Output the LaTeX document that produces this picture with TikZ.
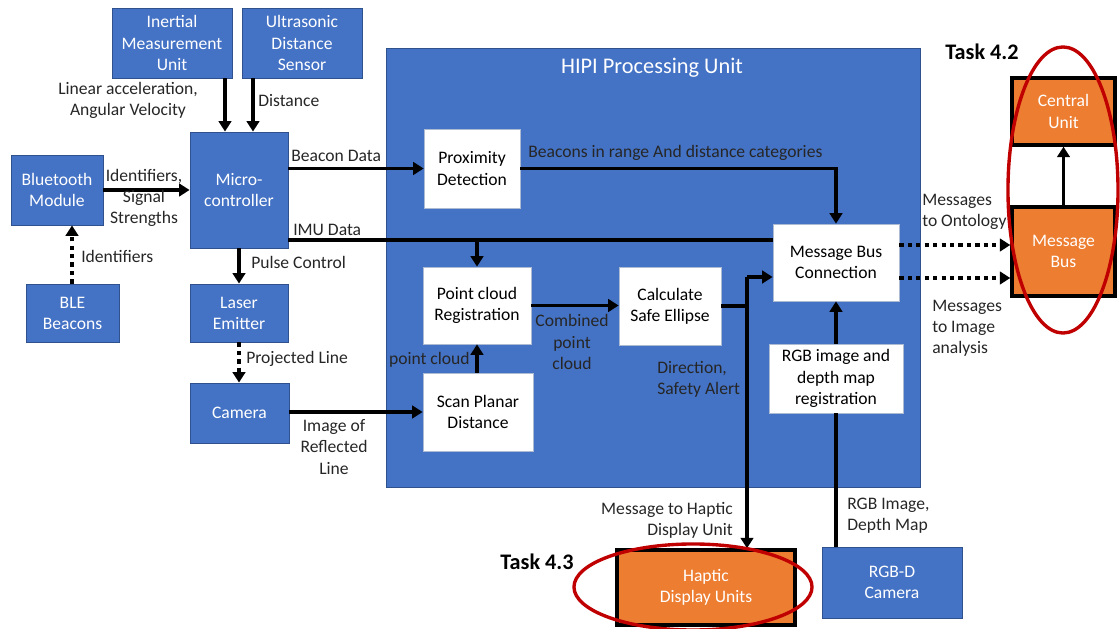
\documentclass[tikz,border=0pt]{standalone}
\usepackage{fontspec}
\setmainfont{Carlito}
\usetikzlibrary{arrows.meta,calc}
\definecolor{boxblue}{HTML}{4472C4}
\definecolor{boxedge}{HTML}{2F528F}
\definecolor{taskorange}{HTML}{ED7D31}
\definecolor{ringred}{HTML}{C00000}
\definecolor{labeltext}{HTML}{262626}
\tikzset{
    unit box/.style = {
        draw = boxedge,
        line width = 0.6pt,
        fill = boxblue,
        text = white,
        align = center,
        inner sep = 0pt,
        },
    stage box/.style = {
        draw = boxedge!40,
        line width = 0.5pt,
        fill = white,
        text = black,
        align = center,
        inner sep = 0pt,
        },
    task box/.style = {
        draw = black,
        line width = 2.4pt,
        fill = taskorange,
        text = white,
        align = center,
        inner sep = 0pt,
        },
    flow label/.style = {
        text = labeltext,
        inner sep = 0pt,
        },
    task label/.style = {
        font = \fontsize{15.8}{18}\selectfont\bfseries,
        inner sep = 0pt,
        },
    flow/.style = {
        draw = black,
        line width = 2.6pt,
        },
    flow arrow/.style = {
        flow,
        -{Triangle[width=9pt,length=7.5pt]},
        },
    signal arrow/.style = {
        flow,
        dash pattern = on 3pt off 3pt,
        -{Triangle[width=9pt,length=7.5pt]},
        },
    task ring/.style = {
        draw = ringred,
        line width = 2.4pt,
        },
}

\begin{document}
\begin{tikzpicture}[x=0.025cm, y=-0.025cm, font=\fontsize{12.5}{15}\selectfont]
    \useasboundingbox (0,0) rectangle (1120,629);

    % processing unit frame
    \node[unit box, minimum width=13.35cm, minimum height=10.975cm] (hipi) at (653,267.5) {};
    \node[text=white, inner sep=0pt, font=\fontsize{15.9}{18}\selectfont] (hipititle) at (652,68) {HIPI Processing Unit};

    % sensors and peripherals
    \node[unit box, minimum width=3cm, minimum height=1.75cm] (imu) at (172,43) {Inertial\\Measurement\\Unit};
    \node[unit box, minimum width=3cm, minimum height=1.75cm] (uds) at (302,43) {Ultrasonic\\Distance\\Sensor};
    \node[unit box, minimum width=2.45cm, minimum height=2.9cm] (mcu) at (239,190) {Micro-\\controller};
    \node[unit box, minimum width=2.3cm, minimum height=1.75cm] (btm) at (57,190) {Bluetooth\\Module};
    \node[unit box, minimum width=2.325cm, minimum height=1.45cm] (ble) at (72.5,313) {BLE\\Beacons};
    \node[unit box, minimum width=2.45cm, minimum height=1.45cm] (laser) at (239,313) {Laser\\Emitter};
    \node[unit box, minimum width=2.475cm, minimum height=1.5cm] (cam) at (239.5,413) {Camera};
    \node[unit box, minimum width=3.5cm, minimum height=1.775cm] (rgbd) at (892,582.5) {RGB-D\\Camera};

    % processing stages
    \node[stage box, minimum width=2.4cm, minimum height=1.975cm] (prox) at (472,168.5) {Proximity\\Detection};
    \node[stage box, minimum width=2.7cm, minimum height=1.925cm] (pcr) at (477,305.5) {Point cloud\\Registration};
    \node[stage box, minimum width=2.75cm, minimum height=1.95cm] (spd) at (478,412) {Scan Planar\\Distance};
    \node[stage box, minimum width=2.55cm, minimum height=1.95cm] (cse) at (670,306) {Calculate\\Safe Ellipse};
    \node[stage box, minimum width=3.15cm, minimum height=1.925cm] (mbc) at (836,262.5) {Message Bus\\Connection};
    \node[stage box, minimum width=3.35cm, minimum height=1.725cm] (rgbreg) at (836,378.5) {RGB image and\\depth map\\registration};

    % task units
    \node[task box, minimum width=2.575cm, minimum height=1.675cm] (cu) at (1063.5,111.5) {Central\\Unit};
    \node[task box, minimum width=2.575cm, minimum height=2.225cm] (mb) at (1063.5,251.5) {Message\\Bus};
    \node[task box, minimum width=4.45cm, minimum height=1.875cm] (hdu) at (706,587.5) {Haptic\\Display Units};
    \node[task label] (task42) at (982,52) {Task 4.2};
    \node[task label] (task43) at (537,562) {Task 4.3};

    % connectors
    \draw[flow arrow] (225,0 |- imu.south) -- (225,0 |- mcu.north);
    \draw[flow arrow] (253,0 |- uds.south) -- (253,0 |- mcu.north);
    \draw[flow arrow] (btm) -- (mcu);
    \draw[signal arrow] (72,0 |- ble.north) -- (72,0 |- btm.south);
    \draw[flow arrow] (mcu.east |- prox.west) -- (prox.west);
    \draw[flow] (mcu.east |- 0,240) -- (mbc.west |- 0,240);
    \draw[flow arrow] (pcr.north |- 0,240) -- (pcr.north);
    \draw[flow arrow] (mcu) -- (laser);
    \draw[signal arrow] (laser.south) -- (laser.south |- cam.north);
    \draw[flow arrow] (cam.east |- spd.west) -- (spd.west);
    \draw[flow arrow] (pcr.south |- spd.north) -- (pcr.south);
    \draw[flow arrow] (pcr.east) -- (pcr.east -| cse.west);
    \draw[flow arrow] (prox.east) -| (mbc.north);
    \coordinate (split) at (747,277);
    \draw[flow] (cse.east) -- (split |- cse.east);
    \draw[flow arrow] (split) -- (split -| mbc.west);
    \draw[flow arrow] (split) -- (split |- hdu.north);
    \draw[flow] (rgbreg.south |- rgbd.north) -- (rgbreg.south);
    \draw[flow arrow] (rgbreg) -- (mbc);
    \draw[signal arrow] (mbc.east |- 0,245) -- (mb.west |- 0,245);
    \draw[signal arrow] (mbc.east |- 0,278) -- (mb.west |- 0,278);
    \draw[flow arrow] (mb) -- (cu);

    % connector labels
    \node[flow label, align=center] (lblimu) at (128,100) {Linear acceleration,\\Angular Velocity};
    \node[flow label, anchor=west] (lbluds) at (258,101) {Distance};
    \node[flow label, align=center] (lblbtm) at (144,198) {Identifiers,\\Signal\\Strengths};
    \node[flow label, anchor=west] (lblble) at (81,256) {Identifiers};
    \node[flow label, anchor=west] (lblbeacon) at (291,156) {Beacon Data};
    \node[flow label, anchor=west] (lblimudata) at (293,230) {IMU Data};
    \node[flow label, anchor=west] (lblpulse) at (251,262) {Pulse Control};
    \node[flow label, anchor=west] (lblproj) at (246,359) {Projected Line};
    \node[flow label, align=center] (lblrefl) at (334,447) {Image of\\Reflected\\Line};
    \node[flow label, anchor=east] (lblcloud) at (470,360) {point cloud};
    \node[flow label, align=center] (lblcomb) at (572,342) {Combined\\point\\cloud};
    \node[flow label, anchor=west] (lblrange) at (528,153) {Beacons in range And distance categories};
    \node[flow label, anchor=west, align=left] (lbldir) at (657,379) {Direction,\\Safety Alert};
    \node[flow label, anchor=east, align=right] (lblhaptic) at (733,520) {Message to Haptic\\Display Unit};
    \node[flow label, anchor=west, align=left] (lblrgbd) at (847,516) {RGB Image,\\Depth Map};
    \node[flow label, anchor=west, align=left] (lblonto) at (922,212) {Messages\\to Ontology};
    \node[flow label, anchor=west, align=left] (lblimage) at (932,328) {Messages\\to Image\\analysis};

    % task rings
    \draw[task ring] (1063,190) ellipse [x radius=1.375cm, y radius=3.575cm];
    \draw[task ring] (693,587) ellipse [x radius=2.975cm, y radius=1.075cm];
\end{tikzpicture}
\end{document}
